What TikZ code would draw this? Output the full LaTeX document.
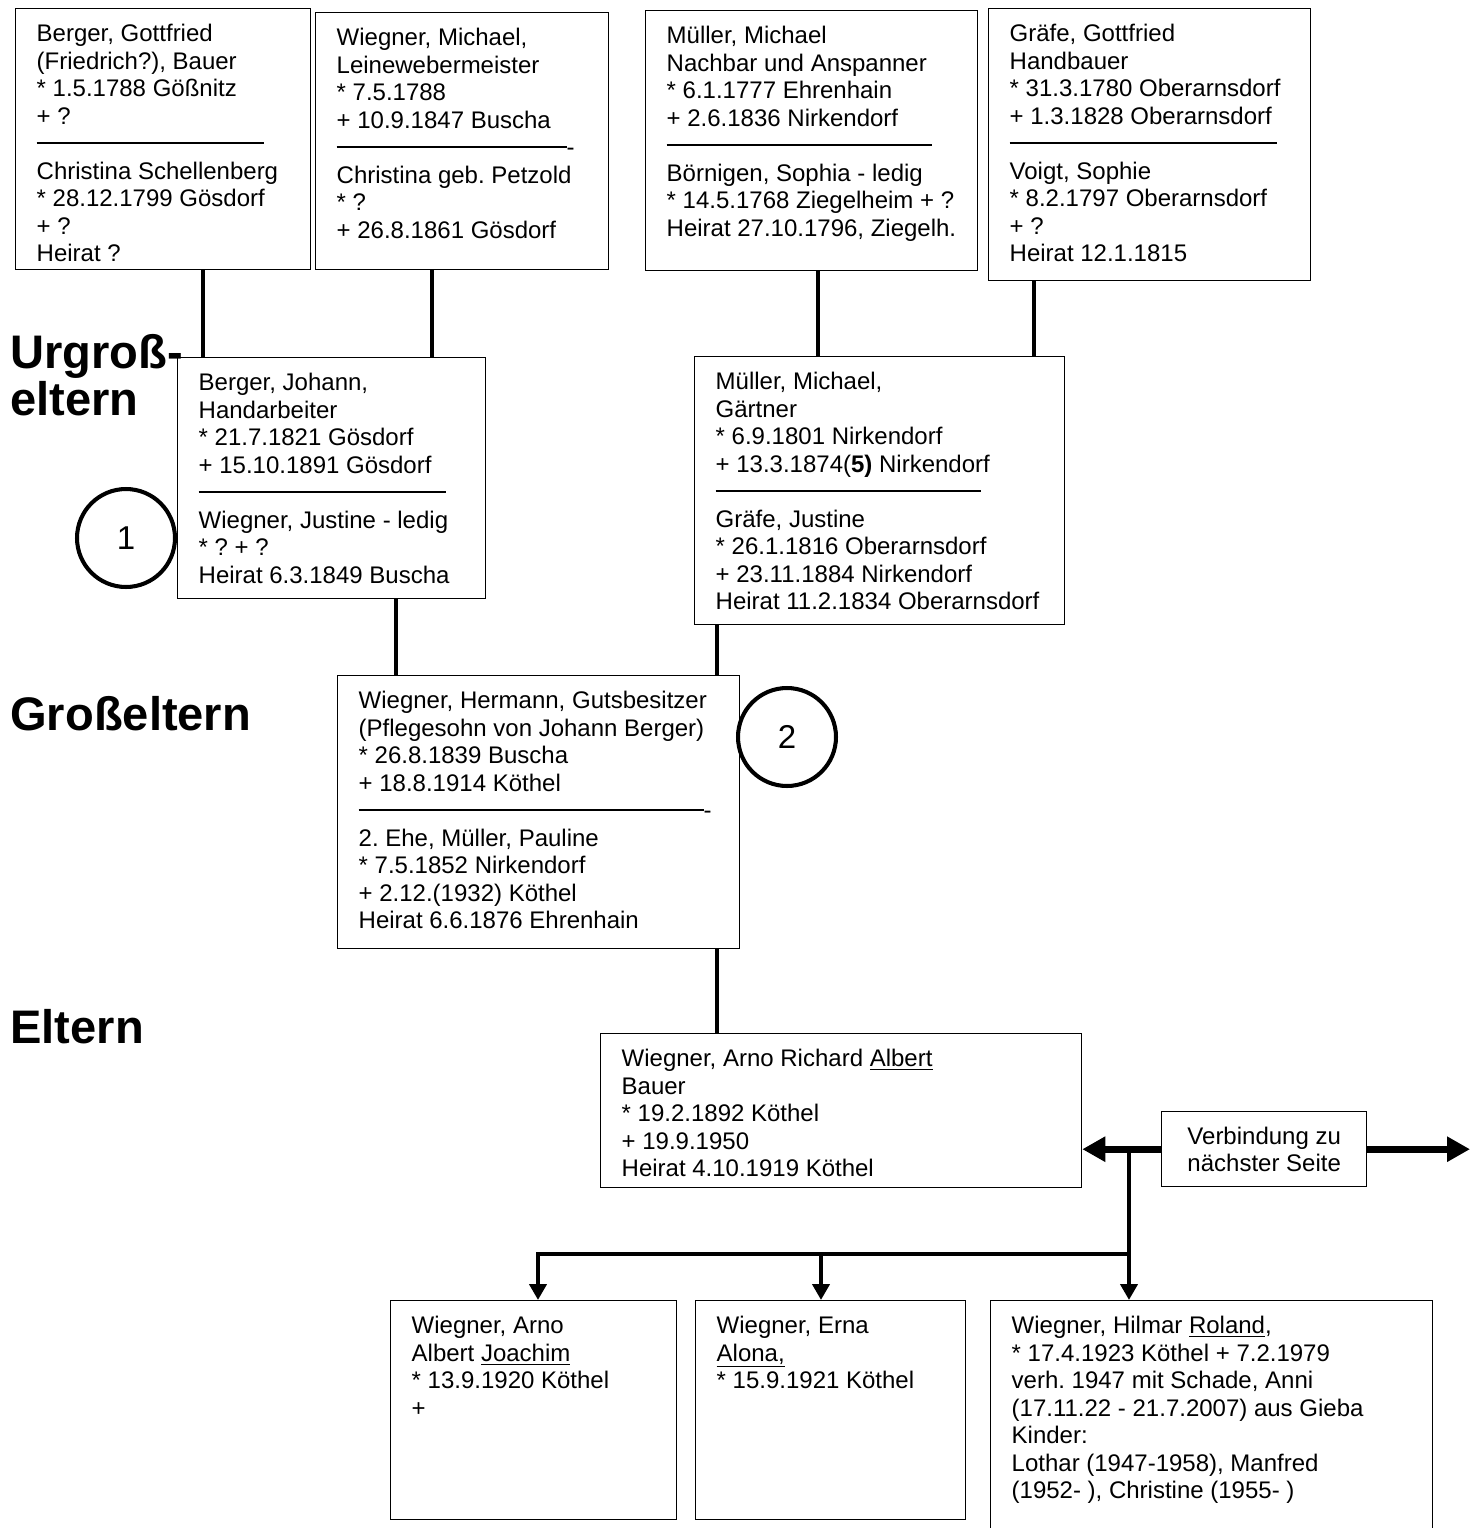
\documentclass[tikz,border=0pt]{standalone}
\usepackage{fontspec}
\setmainfont{Liberation Sans}
\usetikzlibrary{arrows.meta,calc}
\frenchspacing
\newcommand{\schrift}{\fontsize{13.66pt}{15.65pt}\selectfont}
\newcommand{\trenn}[1]{\rule[0.34em]{#1}{0.06em}}
\newcommand{\eintrag}[3]{\parbox[c][#2][t]{#1}{\leftskip=0.42cm\rightskip=0pt plus 1fil\vspace*{0.276cm}\strut#3}}
\tikzset{
person/.style={draw,line width=0.8pt,anchor=north west,inner sep=0pt,font=\schrift},
ebene/.style={anchor=base west,inner sep=0pt,align=left,font=\fontsize{26.8pt}{26.2pt}\selectfont\bfseries},
kreis/.style={draw,circle,line width=2.3pt,minimum size=1.96cm,inner sep=0pt,font=\fontsize{18.8pt}{20pt}\selectfont},
stamm/.style={line width=2.7pt},
pfeil/.style={line width=2.3pt,-{Triangle[length=0.32cm,width=0.34cm]}},
seite/.style={line width=4pt,-{Triangle[length=0.46cm,width=0.48cm]}}
}
\begin{document}
\begin{tikzpicture}[x=0.02cm,y=-0.02cm]
\useasboundingbox (0,0) rectangle (1470,1528);
% Urgrosseltern
\node[person](gottfried)at(15,8){\eintrag{5.9cm}{5.22cm}{Berger, Gottfried\\(Friedrich?), Bauer\\{*} 1.5.1788 Gößnitz\\+ ?\\\trenn{4.54cm}\\Christina Schellenberg\\{*} 28.12.1799 Gösdorf\\+ ?\\Heirat ?}};
\node[person](michaelw)at(315,12){\eintrag{5.86cm}{5.14cm}{Wiegner, Michael,\\Leinewebermeister\\{*} 7.5.1788\\+ 10.9.1847 Buscha\\\trenn{4.6cm}-\\Christina geb. Petzold\\{*} ?\\+ 26.8.1861 Gösdorf}};
\node[person](michaelm)at(645,10){\eintrag{6.64cm}{5.2cm}{Müller, Michael\\Nachbar und Anspanner\\{*} 6.1.1777 Ehrenhain\\+ 2.6.1836 Nirkendorf\\\trenn{5.3cm}\\Börnigen, Sophia - ledig\\{*} 14.5.1768 Ziegelheim + ?\\Heirat 27.10.1796, Ziegelh.}};
\node[person](graefe)at(988,8){\eintrag{6.44cm}{5.44cm}{Gräfe, Gottfried\\Handbauer\\{*} 31.3.1780 Oberarnsdorf\\+ 1.3.1828 Oberarnsdorf\\\trenn{5.34cm}\\Voigt, Sophie\\{*} 8.2.1797 Oberarnsdorf\\+ ?\\Heirat 12.1.1815}};
% Grosseltern
\node[person](johann)at(177,357){\eintrag{6.16cm}{4.82cm}{Berger, Johann,\\Handarbeiter\\{*} 21.7.1821 Gösdorf\\+ 15.10.1891 Gösdorf\\\trenn{4.94cm}\\Wiegner, Justine - ledig\\{*} ? + ?\\Heirat 6.3.1849 Buscha}};
\node[person](michaelg)at(694,356){\eintrag{7.4cm}{5.36cm}{Müller, Michael,\\Gärtner\\{*} 6.9.1801 Nirkendorf\\+ 13.3.1874(\textbf{5)} Nirkendorf\\\trenn{5.3cm}\\Gräfe, Justine\\{*} 26.1.1816 Oberarnsdorf\\+ 23.11.1884 Nirkendorf\\Heirat 11.2.1834 Oberarnsdorf}};
% Eltern
\node[person](hermann)at(337,675){\eintrag{8.04cm}{5.46cm}{Wiegner, Hermann, Gutsbesitzer\\(Pflegesohn von Johann Berger)\\{*} 26.8.1839 Buscha\\+ 18.8.1914 Köthel\\\trenn{6.9cm}-\\2. Ehe, Müller, Pauline\\{*} 7.5.1852 Nirkendorf\\+ 2.12.(1932) Köthel\\Heirat 6.6.1876 Ehrenhain}};
\node[person](albert)at(600,1033){\eintrag{9.62cm}{3.08cm}{Wiegner, Arno Richard \underline{Albert}\\Bauer\\{*} 19.2.1892 Köthel\\+ 19.9.1950\\Heirat 4.10.1919 Köthel}};
\node[person,align=center,minimum width=4.1cm,minimum height=1.5cm](verbindung)at(1161,1111){Verbindung zu\\nächster Seite};
% Kinder
\node[person](joachim)at(390,1300){\eintrag{5.72cm}{4.38cm}{Wiegner, Arno\\Albert \underline{Joachim}\\{*} 13.9.1920 Köthel\\+}};
\node[person](erna)at(695,1300){\eintrag{5.4cm}{4.38cm}{Wiegner, Erna\\\underline{Alona,}\\{*} 15.9.1921 Köthel}};
\node[person](roland)at(990,1300){\eintrag{8.84cm}{4.8cm}{Wiegner, Hilmar \underline{Roland},\\{*} 17.4.1923 Köthel + 7.2.1979\\verh. 1947 mit Schade, Anni\\(17.11.22 - 21.7.2007) aus Gieba\\Kinder:\\Lothar (1947-1958), Manfred\\(1952- ), Christine (1955- )}};
\node[ebene](urgross)at(10,415){Urgroß-\\eltern};
\node[ebene](gross)at(10,730){Großeltern};
\node[ebene](eltern)at(10,1043){Eltern};
\node[kreis](eins)at(126,538){1};
\node[kreis](zwei)at(787,737){2};
\draw[stamm](gottfried.south -| 203,0)--(johann.north -| 203,0);
\draw[stamm](michaelw.south -| 432,0)--(johann.north -| 432,0);
\draw[stamm](michaelm.south -| 818,0)--(michaelg.north -| 818,0);
\draw[stamm](graefe.south -| 1034,0)--(michaelg.north -| 1034,0);
\draw[stamm](johann.south -| 396,0)--(hermann.north -| 396,0);
\draw[stamm](michaelg.south -| 717,0)--(hermann.north -| 717,0);
\draw[stamm](hermann.south -| 717,0)--(albert.north -| 717,0);
\coordinate(weiter)at(verbindung.east -| 1470,0);
\coordinate(abzweig)at(verbindung.west -| 1129,0);
\coordinate(quer)at(1129,1254);
\draw[seite](verbindung.west)--(verbindung.west -| albert.east);
\draw[seite](verbindung.east)--(weiter);
\draw[pfeil](abzweig)--(abzweig |- roland.north);
\draw[pfeil](quer)-|(joachim.north -| 538,0);
\draw[pfeil](quer -| 821,0)--(erna.north -| 821,0);
\end{tikzpicture}
\end{document}
